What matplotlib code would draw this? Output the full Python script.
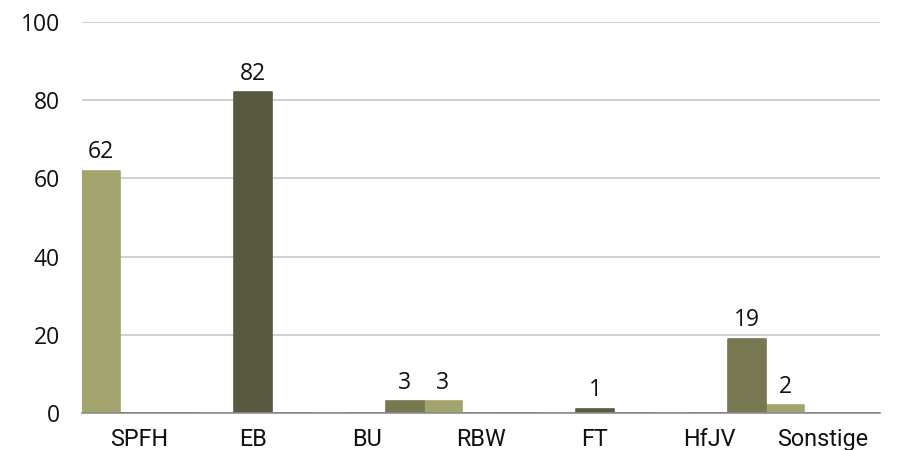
import numpy as np
from matplotlib import pyplot as plt

# Daten
kategorien = ["SPFH", "EB", "BU", "RBW", "FT", "HfJV", "Sonstige"]
serie_a = [62, 0, 0, 3, 0, 0, 2]   # hell
serie_b = [0, 82, 0, 0, 1, 0, 0]   # dunkel
serie_c = [0, 0, 3, 0, 0, 19, 0]   # mittel
farben = ["#a3a46d", "#59593f", "#777751"]
y_ticks = [0, 20, 40, 60, 80, 100]

fig = plt.figure(figsize=(8.97, 4.5), dpi=100)
ax = fig.add_axes([0.0914, 0.0822, 0.8896, 0.869])

x = np.arange(len(kategorien))
breite = 1 / 3
for i, (werte, farbe) in enumerate(zip([serie_a, serie_b, serie_c], farben)):
    pos = x + (i - 1) * breite
    balken = ax.bar(pos, werte, width=breite, color=farbe, edgecolor=farbe,
                    linewidth=1.2, joinstyle="round", zorder=3)
    for b, w in zip(balken, werte):
        if w > 0:
            ax.text(b.get_x() + b.get_width() / 2, w + 1.7, str(w),
                    ha="center", va="bottom", fontsize=16.5,
                    family=["Open Sans", "DejaVu Sans"], color="#111111")

ax.set_xlim(-0.5, len(kategorien) - 0.5)
ax.set_ylim(0, 100)
ax.set_yticks(y_ticks)
ax.set_xticks(x)
ax.set_xticklabels(kategorien, fontsize=16.8, family=["Roboto", "DejaVu Sans"])
for lab in ax.get_yticklabels():
    lab.set_fontsize(16.5)
    lab.set_family(["Open Sans", "DejaVu Sans"])
ax.tick_params(length=0, pad=16, axis="y", colors="#111111")
ax.tick_params(length=0, pad=11, axis="x", colors="#111111")

ax.grid(axis="y", color="#c8c8c8", linewidth=1.2, zorder=0)
for s in ["top", "right", "left"]:
    ax.spines[s].set_visible(False)
ax.spines["bottom"].set_color("#8c8c8c")
ax.spines["bottom"].set_linewidth(1.2)
ax.spines["bottom"].set_zorder(4)

plt.savefig("out.png", dpi=100)
